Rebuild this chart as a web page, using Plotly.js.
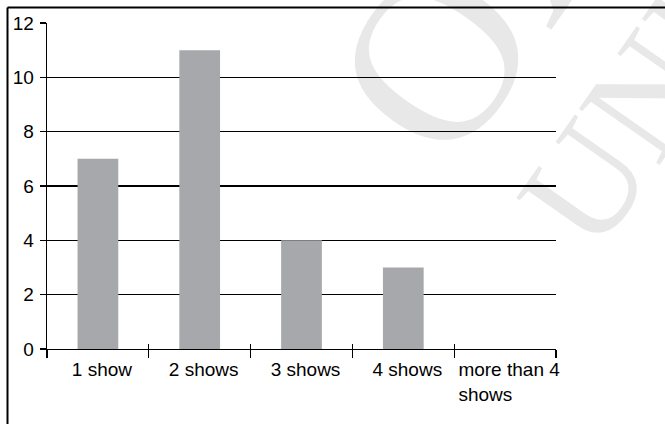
<!DOCTYPE html>
<html>
<head>
<meta charset="utf-8">
<script src="https://cdn.plot.ly/plotly-3.0.1.min.js"></script>
<style>
  html, body { margin: 0; padding: 0; background: #ffffff; }
  #chart { width: 665px; height: 424px; }
</style>
</head>
<body>
<div id="chart"></div>
<script>
// ---- data ----
const categories = ['1 show', '2 shows', '3 shows', '4 shows', 'more than 4 shows'];
const counts = [7, 11, 4, 3, 0];
const tickLabels = ['1 show', '2 shows', '3 shows', '4 shows',
  'more than 4<br>shows\u00a0\u00a0\u00a0\u00a0\u00a0\u00a0\u00a0\u00a0\u00a0'];
const yTicks = [0, 2, 4, 6, 8, 10, 12];
const watermarkLines = ['OXFORD', 'UNIVERSITY PRESS'];

// ---- layout constants ----
const W = 665, H = 424;
const M = { l: 47, r: 109, t: 23, b: 75 };
const pw = W - M.l - M.r, ph = H - M.t - M.b;
const px = v => (v - M.l) / pw;
const py = v => (H - M.b - v) / ph;
const frameX = px(7.5);
const frameY = py(7.5);

const font = { family: 'Liberation Sans, Arial, Helvetica, sans-serif', size: 19, color: '#000000' };

function wmShape(text, cx, cy, size) {
  return {
    type: 'rect', xref: 'paper', yref: 'paper', layer: 'below',
    x0: px(cx) - 0.005, x1: px(cx) + 0.005, y0: py(cy) - 0.005, y1: py(cy) + 0.005,
    line: { width: 0 }, fillcolor: 'rgba(0,0,0,0)',
    label: { text: text, textangle: -55, textposition: 'middle center',
      font: { family: 'Liberation Serif, Times New Roman, serif', size: size, color: '#e8e8e8' } }
  };
}

const traces = [
  {
    type: 'bar',
    x: categories,
    y: counts,
    marker: { color: '#a7a8ab', line: { width: 0 } },
    hoverinfo: 'skip',
    showlegend: false
  },
  {
    type: 'scatter',
    mode: 'markers',
    x: categories,
    y: counts,
    xaxis: 'x2',
    marker: { opacity: 0 },
    hoverinfo: 'skip',
    showlegend: false
  }
];

const layout = {
  width: W,
  height: H,
  margin: M,
  paper_bgcolor: '#ffffff',
  plot_bgcolor: 'rgba(0,0,0,0)',
  bargap: 0.6,
  font: font,
  showlegend: false,
  xaxis: {
    type: 'category',
    range: [-0.5, 4.5],
    tickvals: categories,
    ticktext: tickLabels,
    tickangle: 0,
    tickson: 'boundaries',
    ticks: 'outside',
    ticklen: 8,
    tickwidth: 1.3,
    tickcolor: '#000000',
    ticklabelshift: 4,
    ticklabelstandoff: 3,
    showline: true,
    linecolor: '#000000',
    linewidth: 1.3,
    showgrid: false,
    zeroline: false,
    tickfont: font,
    fixedrange: true
  },
  xaxis2: {
    type: 'category',
    overlaying: 'x',
    anchor: 'y',
    side: 'bottom',
    range: [-0.5, 4.5],
    tickson: 'boundaries',
    ticks: 'inside',
    ticklen: 5,
    tickwidth: 1.3,
    tickcolor: '#000000',
    showticklabels: false,
    showline: false,
    showgrid: false,
    zeroline: false,
    fixedrange: true
  },
  yaxis: {
    range: [0, 12],
    tickvals: yTicks,
    ticks: 'outside',
    ticklen: 6,
    tickwidth: 1.3,
    tickcolor: '#000000',
    ticklabelstandoff: 2,
    showline: true,
    linecolor: '#000000',
    linewidth: 1.3,
    showgrid: true,
    gridcolor: '#000000',
    gridwidth: 1.3,
    zeroline: false,
    tickfont: font,
    fixedrange: true
  },
  shapes: [
    wmShape(watermarkLines[0], 642, -283, 235),
    wmShape(watermarkLines[1], 934, -344, 150),
    { type: 'line', xref: 'paper', yref: 'paper', x0: frameX, x1: frameX, y0: -0.4, y1: frameY,
      line: { color: '#000000', width: 2 } },
    { type: 'line', xref: 'paper', yref: 'paper', x0: frameX, x1: 1.4, y0: frameY, y1: frameY,
      line: { color: '#000000', width: 2 } }
  ]
};

Plotly.newPlot('chart', traces, layout, { displayModeBar: false, staticPlot: true });
</script>
</body>
</html>
